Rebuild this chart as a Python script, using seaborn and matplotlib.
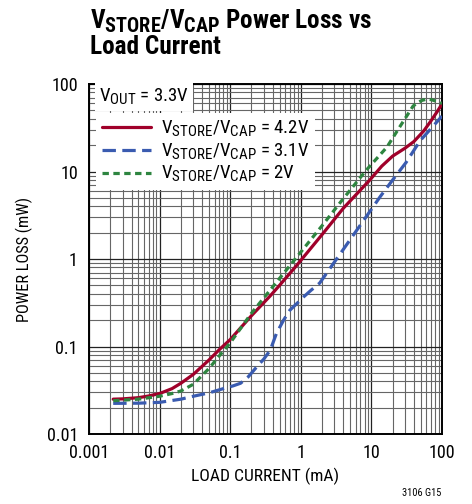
"""
plot.py
============================
V_STORE/V_CAP power loss vs load current, log-log, three supply levels.
"""

import matplotlib._mathtext as mathtext_internals
import matplotlib.pyplot as plt
import numpy as np
import pandas as pd
import seaborn as sns
from matplotlib.lines import Line2D
from matplotlib.ticker import FixedLocator, LogLocator, NullFormatter

# ---------------------------------------------------------------------------
# Data
# ---------------------------------------------------------------------------

current_42 = [0.0022, 0.003, 0.005, 0.007, 0.01, 0.015, 0.02, 0.03, 0.05, 0.07,
              0.1, 0.2, 0.37, 0.5, 0.88, 2, 4, 9.5, 14, 20,
              30, 40, 55, 70, 85, 100]
power_42   = [0.025, 0.0252, 0.026, 0.0272, 0.029, 0.033, 0.038, 0.048, 0.07, 0.092,
              0.12, 0.225, 0.38, 0.5, 0.85, 1.9, 3.8, 8.0, 11.5, 15,
              18.5, 22, 29, 38, 48, 59]

current_31 = [0.0022, 0.005, 0.01, 0.02, 0.03, 0.05, 0.08, 0.11, 0.14, 0.18,
              0.24, 0.3, 0.37, 0.45, 0.57, 0.7, 0.88, 1.1, 1.4, 1.85,
              2.5, 3.6, 7, 13.3, 20, 31, 49, 75, 100]
power_31   = [0.0224, 0.0225, 0.023, 0.025, 0.027, 0.0295, 0.033, 0.0355, 0.038, 0.045,
              0.059, 0.072, 0.091, 0.14, 0.2, 0.26, 0.31, 0.37, 0.44, 0.53,
              0.75, 1.14, 2.45, 5.15, 8.0, 12.7, 22.5, 33, 43]

current_2  = [0.0022, 0.005, 0.01, 0.015, 0.02, 0.03, 0.05, 0.07, 0.1, 0.2,
              0.5, 1, 2, 4, 8.5, 16.6, 25, 39, 45, 52,
              58, 64, 72, 80, 100]
power_2    = [0.024, 0.025, 0.027, 0.029, 0.031, 0.037, 0.056, 0.078, 0.11, 0.24,
              0.6, 1.2, 2.4, 4.9, 10.4, 19, 32, 56, 61, 65,
              66.5, 67, 66, 64, 60]

series_labels = ['4.2V', '3.1V', '2V']
x_ticks       = [0.001, 0.01, 0.1, 1, 10, 100]
x_ticklabels  = ['0.001', '0.01', '0.1', '1', '10', '100']
y_ticks       = [0.01, 0.1, 1, 10, 100]
y_ticklabels  = ['0.01', '0.1', '1', '10', '100']

# ---------------------------------------------------------------------------
# Style
# ---------------------------------------------------------------------------

FONT   = ['Roboto Condensed', 'DejaVu Sans']
COLORS = {'4.2V': '#a0002a', '3.1V': '#3a5bb0', '2V': '#2e8540'}
DASHES = {'4.2V': (None, None), '3.1V': (4.2, 2.0), '2V': (2.0, 1.4)}

# datasheet subscripts are only slightly smaller than the base text
mathtext_internals.SHRINK_FACTOR = 0.8


def _build_frame():
    parts = []
    for lbl, cur, pw in zip(series_labels,
                            [current_42, current_31, current_2],
                            [power_42, power_31, power_2]):
        parts.append(pd.DataFrame({'current': cur, 'power': pw, 'series': lbl}))
    return pd.concat(parts, ignore_index=True)


def main():
    sns.set_style('white')
    plt.rcParams['font.family'] = FONT
    plt.rcParams['text.color'] = 'black'
    plt.rcParams['axes.labelcolor'] = 'black'
    plt.rcParams['xtick.color'] = 'black'
    plt.rcParams['ytick.color'] = 'black'
    plt.rcParams['mathtext.fontset'] = 'custom'
    plt.rcParams['mathtext.rm'] = FONT[0]
    plt.rcParams['mathtext.bf'] = FONT[0] + ':bold'

    df = _build_frame()

    fig = plt.figure(figsize=(4.72, 5.04), dpi=100)
    ax = fig.add_axes([0.1886, 0.1389, 0.7478, 0.6944])

    for lbl in series_labels:
        sub = df[df['series'] == lbl]
        sns.lineplot(data=sub, x='current', y='power', ax=ax,
                     color=COLORS[lbl], linewidth=2.3,
                     sort=False, estimator=None, zorder=5)
        ln = ax.lines[-1]
        if DASHES[lbl][0] is not None:
            ln.set_dashes(DASHES[lbl])
        ln.set_dash_capstyle('butt')
        ln.set_solid_joinstyle('round')

    ax.set_xscale('log')
    ax.set_yscale('log')
    ax.set_xlim(0.001, 100)
    ax.set_ylim(0.01, 100)

    ax.xaxis.set_major_locator(FixedLocator(x_ticks))
    ax.yaxis.set_major_locator(FixedLocator(y_ticks))
    ax.set_xticklabels(x_ticklabels)
    ax.set_yticklabels(y_ticklabels)
    ax.xaxis.set_minor_locator(LogLocator(base=10, subs=np.arange(2, 10)))
    ax.yaxis.set_minor_locator(LogLocator(base=10, subs=np.arange(2, 10)))
    ax.xaxis.set_minor_formatter(NullFormatter())
    ax.yaxis.set_minor_formatter(NullFormatter())
    ax.tick_params(which='both', length=0, labelsize=13)
    ax.tick_params(axis='x', pad=7)
    ax.tick_params(axis='y', pad=8)

    ax.grid(which='major', color='#222222', linewidth=0.9)
    ax.grid(which='minor', color='#666666', linewidth=0.8)
    ax.set_axisbelow(True)
    for sp in ax.spines.values():
        sp.set_color('black')
        sp.set_linewidth(1.4)

    ax.set_xlabel('LOAD CURRENT (mA)', fontsize=12.6, labelpad=4)
    ax.set_ylabel('POWER LOSS (mW)', fontsize=11.8, labelpad=10)

    # legend
    handles = []
    for lbl in series_labels:
        h = Line2D([], [], color=COLORS[lbl], linewidth=2.3)
        if DASHES[lbl][0] is not None:
            h.set_dashes(DASHES[lbl])
        handles.append(h)
    labels = [r'V$_{\mathregular{STORE}}$/V$_{\mathregular{CAP}}$ = ' + s
              for s in series_labels]
    leg = ax.legend(handles, labels, loc='upper left',
                    bbox_to_anchor=(0.021, 0.916), fontsize=13.5,
                    frameon=True, fancybox=False, framealpha=1,
                    edgecolor='none', facecolor='white',
                    handlelength=2.6, handletextpad=0.55,
                    labelspacing=0.12, borderpad=0.3, borderaxespad=0)
    leg.set_zorder(10)

    ax.text(0.028, 0.963, r'V$_{\mathregular{OUT}}$ = 3.3V',
            transform=ax.transAxes, fontsize=13.5, ha='left', va='center',
            zorder=11,
            bbox=dict(facecolor='white', edgecolor='none', pad=3))

    fig.text(0.19, 0.985,
             r'V$_{\mathregular{STORE}}$/V$_{\mathregular{CAP}}$ Power Loss vs'
             '\nLoad Current',
             ha='left', va='top', fontsize=18.2, fontweight='bold',
             linespacing=1.0)
    fig.text(0.935, 0.012, '3106 G15', ha='right', va='bottom', fontsize=7.5)

    fig.savefig('out.png', dpi=100)


if __name__ == '__main__':
    main()
